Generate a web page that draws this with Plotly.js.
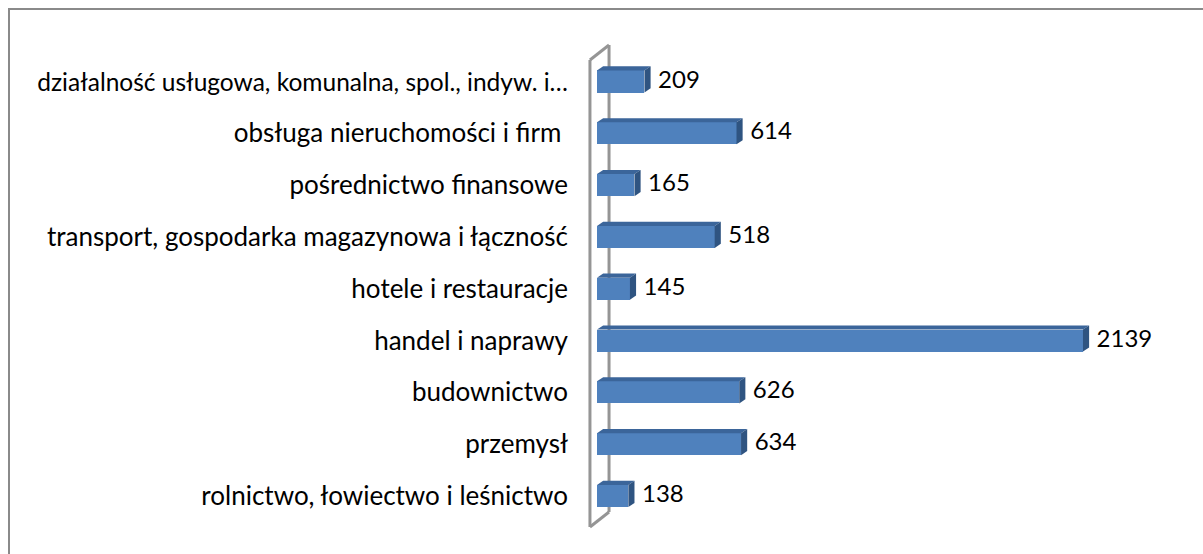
<!DOCTYPE html>
<html>
<head>
<meta charset="utf-8">
<script src="https://cdn.plot.ly/plotly-3.0.1.min.js"></script>
<style>
html,body{margin:0;padding:0;background:#fff;overflow:hidden;}
#chart{width:1203px;height:554px;position:absolute;left:0;top:0;}
#frame{position:absolute;left:8px;top:8px;width:1300px;height:700px;border-top:2px solid #8a8a8a;border-left:2px solid #8a8a8a;pointer-events:none;}
</style>
</head>
<body>
<div id="chart"></div>
<div id="frame"></div>
<script>
// Categories listed bottom to top
var categories = [
  "rolnictwo, łowiectwo i leśnictwo",
  "przemysł",
  "budownictwo",
  "handel i naprawy",
  "hotele i restauracje",
  "transport, gospodarka magazynowa i łączność",
  "pośrednictwo finansowe",
  "obsługa nieruchomości i firm ",
  "działalność usługowa, komunalna, spol., indyw. i…"
];
var values = [138, 634, 626, 2139, 145, 518, 165, 614, 209];
var valueLabels = ["138", "634", "626", "2139", "145", "518", "165", "614", "209"];

var idx = categories.map(function(_, i){ return i; });
// the truncated top label is drawn slightly smaller so it fits like the original
var tickTexts = categories.map(function(c, i){
  return i === categories.length - 1 ? '<span style="font-size:24.5px">' + c + '</span>' : c;
});

// 3D look parameters (data units)
var barW = 0.425;      // bar thickness in category units
var depthX = 27;       // depth offset in value units
var depthY = 0.08;     // depth offset in category units
var labelGap = 60;

var front = '#4f81bd', topC = '#3b659a', sideC = '#2f5481';

var shapes = [];
for (var i = 0; i < values.length; i++) {
  var v = values[i], y0 = i - barW/2, y1 = i + barW/2;
  shapes.push({type:'path', xref:'x', yref:'y', layer:'above',
    path:'M0,'+y1+' L'+v+','+y1+' L'+(v+depthX)+','+(y1+depthY)+' L'+depthX+','+(y1+depthY)+' Z',
    fillcolor:topC, line:{width:0}});
  shapes.push({type:'path', xref:'x', yref:'y', layer:'above',
    path:'M'+v+','+y0+' L'+(v+depthX)+','+(y0+depthY)+' L'+(v+depthX)+','+(y1+depthY)+' L'+v+','+y1+' Z',
    fillcolor:sideC, line:{width:0}});
}
// axis wall (decoration of the category axis)
var wallFrontX = -31, wallBackX = 53;
var wall = [
  [wallFrontX, 8.415, wallFrontX, -0.598],
  [wallBackX, 8.705, wallBackX, -0.309],
  [wallFrontX, 8.415, wallBackX, 8.705],
  [wallFrontX, -0.598, wallBackX, -0.309]
];
wall.forEach(function(w){
  shapes.unshift({type:'line', xref:'x', yref:'y', layer:'below',
    x0:w[0], y0:w[1], x1:w[2], y1:w[3], line:{color:'#959595', width:3}});
});

var bars = {
  type:'bar', orientation:'h', x:values, y:idx, width:barW,
  marker:{color:front, line:{width:0}}, hoverinfo:'none', showlegend:false
};
var labels = {
  type:'scatter', mode:'text', x:values.map(function(v){return v+labelGap;}), y:idx,
  text:valueLabels, textposition:'middle right',
  textfont:{family:'Lato, "Open Sans", sans-serif', size:24, color:'#000'},
  hoverinfo:'none', showlegend:false, cliponaxis:false
};

var layout = {
  width:1203, height:554,
  margin:{l:580, r:23, t:30, b:14},
  paper_bgcolor:'#fff', plot_bgcolor:'rgba(0,0,0,0)',
  font:{family:'Lato, "Open Sans", sans-serif', size:24, color:'#000'},
  xaxis:{range:[-74.8, 2566], showgrid:false, zeroline:false, showline:false,
         showticklabels:false, ticks:'', automargin:false, fixedrange:true},
  yaxis:{range:[-0.849, 8.994], tickvals:idx, ticktext:tickTexts,
         showgrid:false, zeroline:false, showline:false, ticks:'',
         ticklabelstandoff:11, automargin:false, fixedrange:true,
         tickfont:{family:'Lato, "Open Sans", sans-serif', size:26, color:'#000'}},
  shapes:shapes,
  bargap:0
};
Plotly.newPlot('chart', [bars, labels], layout, {staticPlot:true, displayModeBar:false});
</script>
</body>
</html>
